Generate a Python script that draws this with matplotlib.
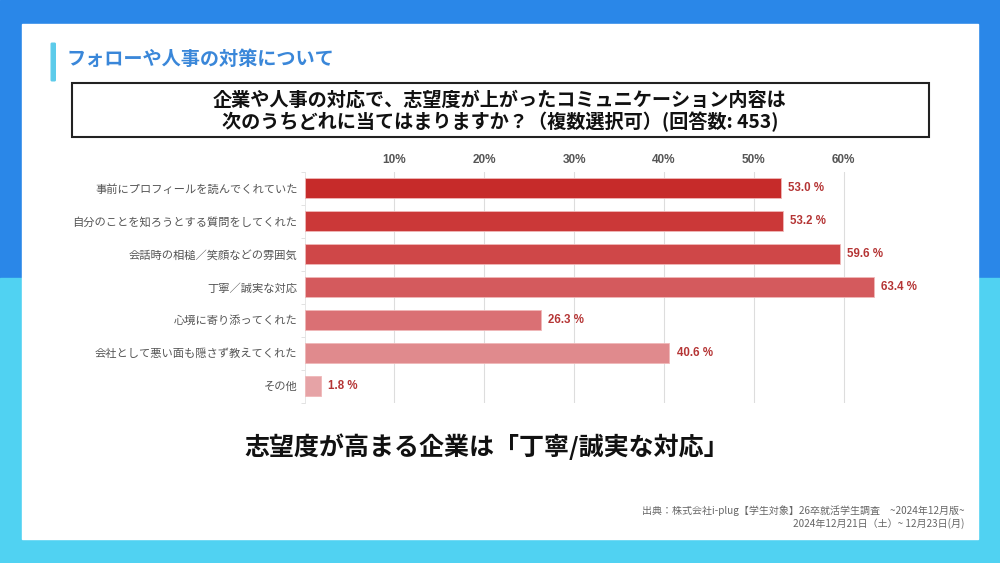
import matplotlib
matplotlib.use('Agg')
import matplotlib.pyplot as plt
import matplotlib.patches as patches
import numpy as np

plt.rcParams['font.family'] = ['Noto Sans CJK JP', 'DejaVu Sans']

# data
categories = ['事前にプロフィールを読んでくれていた',
              '自分のことを知ろうとする質問をしてくれた',
              '会話時の相槌／笑顔などの雰囲気',
              '丁寧／誠実な対応',
              '心境に寄り添ってくれた',
              '会社として悪い面も隠さず教えてくれた',
              'その他']
values = [53.0, 53.2, 59.6, 63.4, 26.3, 40.6, 1.8]
bar_colors = ['#C62B2A', '#CB3838', '#CF4748', '#D45A5D', '#DA7074', '#E08A8D', '#E6A3A6']
xticks = [10, 20, 30, 40, 50, 60]

fig = plt.figure(figsize=(10, 5.63), dpi=100)

# background in pixel coordinates
bg = fig.add_axes([0, 0, 1, 1])
bg.set_xlim(0, 1000)
bg.set_ylim(563, 0)
bg.axis('off')
bg.add_patch(patches.Rectangle((0, 0), 1000, 278, color='#2A87E8', zorder=0))
bg.add_patch(patches.Rectangle((0, 278), 1000, 285, color='#50D2F2', zorder=0))
bg.add_patch(patches.Rectangle((22, 24), 956, 515, color='white', zorder=1))
bg.add_patch(patches.FancyBboxPatch((52, 44), 2.5, 36, boxstyle='round,pad=0.8',
                                    color='#5CCBEA', zorder=2))
bg.text(67, 59, 'フォローや人事の対策について', color='#3A87D9', fontsize=13.8,
        fontweight='bold', va='center', ha='left', zorder=3)
bg.add_patch(patches.Rectangle((72, 83), 857, 54, facecolor='white',
                               edgecolor='#222222', linewidth=1.5, zorder=2))
bg.text(500, 111.5, '企業や人事の対応で、志望度が上がったコミュニケーション内容は\n'
        '次のうちどれに当てはまりますか？（複数選択可）(回答数: 453)',
        ha='center', va='center', fontsize=13.8, fontweight='bold',
        color='#111111', linespacing=1.12, zorder=3)
bg.text(487, 447, '志望度が高まる企業は「丁寧/誠実な対応」', ha='center', va='center',
        fontsize=18, fontweight='bold', color='#111111', zorder=3)
bg.text(964, 517, '出典：株式会社i-plug【学生対象】26卒就活学生調査　~2024年12月版~\n'
        '2024年12月21日（土）~ 12月23日(月)', ha='right', va='center',
        fontsize=7.2, color='#666666', linespacing=1.2, zorder=3)

# chart
ax = fig.add_axes([304.5 / 1000, 1 - 402.5 / 563, 629 / 1000, 231 / 563])
ax.set_facecolor('none')
y = np.arange(len(categories))
bars = ax.barh(y, values, height=0.6, color=bar_colors, edgecolor='#F0B8B8',
               linewidth=0.6, zorder=3)
for yi, v in zip(y, values):
    ax.text(v + 0.8, yi, f'{v:.1f} %', va='center', ha='left', fontsize=8.3,
            fontweight='bold', color='#B53535', family=['Liberation Sans', 'DejaVu Sans'])
ax.set_xlim(0, 70)
ax.set_ylim(len(categories) - 0.5, -0.5)
ax.set_xticks(xticks)
ax.set_xticklabels([f'{t}%' for t in xticks], fontsize=8.5, fontweight='bold',
                   color='#555555', family=['Liberation Sans', 'DejaVu Sans'])
ax.xaxis.tick_top()
ax.tick_params(axis='x', length=0, pad=4)
ax.set_yticks(y)
ax.set_yticklabels(categories, fontsize=8.1, color='#555555')
ax.tick_params(axis='y', length=0, pad=5)
ax.set_yticks(np.arange(len(categories) + 1) - 0.5, minor=True)
ax.tick_params(axis='y', which='minor', length=3, color='#DDDDDD', width=0.6)
ax.grid(axis='x', color='#DDDDDD', linewidth=0.8, zorder=0)
for s in ['top', 'right', 'bottom']:
    ax.spines[s].set_visible(False)
ax.spines['left'].set_color('#E2E2E2')
ax.spines['left'].set_linewidth(0.6)

fig.savefig('out.png', dpi=100)
